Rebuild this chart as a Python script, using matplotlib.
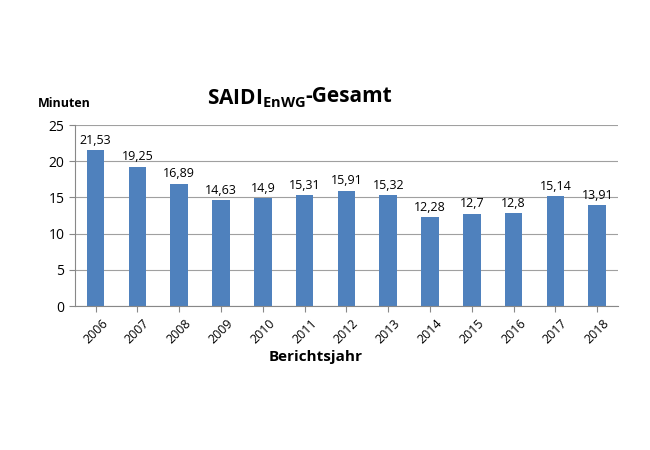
import matplotlib
matplotlib.use("Agg")
import matplotlib.pyplot as plt

years = ["2006","2007","2008","2009","2010","2011","2012","2013","2014","2015","2016","2017","2018"]
values = [21.53,19.25,16.89,14.63,14.9,15.31,15.91,15.32,12.28,12.7,12.8,15.14,13.91]
labels = ["21,53","19,25","16,89","14,63","14,9","15,31","15,91","15,32","12,28","12,7","12,8","15,14","13,91"]

plt.rcParams["font.family"] = "Open Sans"
plt.rcParams["mathtext.fontset"] = "custom"
plt.rcParams["mathtext.bf"] = "Open Sans:bold"
plt.rcParams["mathtext.rm"] = "Open Sans"
fig = plt.figure(figsize=(6.5,4.5), dpi=100)
ax = fig.add_axes([0.115, 0.32, 0.836, 0.402])
x = range(len(years))
ax.bar(x, values, width=0.42, color="#4F81BD", zorder=2)
for i, (v, l) in enumerate(zip(values, labels)):
    ax.text(i, v + 0.5, l, ha="center", va="bottom", fontsize=9)
ax.set_xlim(-0.5, len(years)-0.5)
ax.set_ylim(0, 25)
ax.set_yticks(range(0, 26, 5))
ax.yaxis.grid(True, color="#a0a0a0", lw=0.8, zorder=0)
ax.set_xticks(list(x))
ax.set_xticklabels(years, rotation=45, fontsize=9, ha="center")
ax.tick_params(axis="y", labelsize=10, length=4, color="#888888")
ax.tick_params(axis="x", length=4, color="#888888")
for s in ["top", "right"]:
    ax.spines[s].set_visible(False)
ax.spines["left"].set_color("#888888")
ax.spines["bottom"].set_color("#888888")
fig.text(0.058, 0.771, "Minuten", fontsize=9, fontweight="bold", va="center")
fig.text(0.47, 0.78, r"$\mathbf{SAIDI}_{\mathbf{EnWG}}$", fontsize=15, ha="right", va="center")
fig.text(0.47, 0.785, "-Gesamt", fontsize=15, fontweight="bold", ha="left", va="center")
fig.text(0.485, 0.207, "Berichtsjahr", fontsize=11, fontweight="bold", ha="center", va="center")
fig.savefig("out.png", dpi=100)
